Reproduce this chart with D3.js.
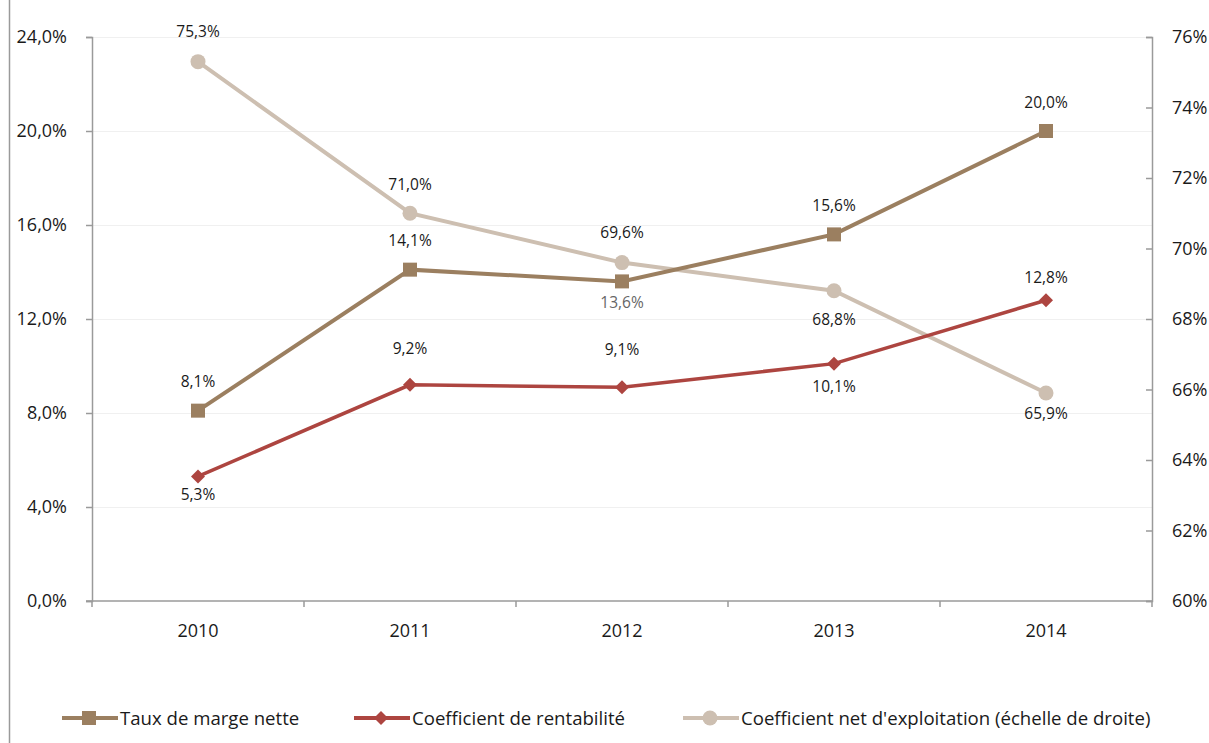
<!DOCTYPE html>
<html>
<head>
<meta charset="utf-8">
<script src="https://cdn.jsdelivr.net/npm/d3@7"></script>
<style>
  body { margin: 0; background: #fff; }
  svg text { font-family: "Open Sans", "Noto Sans", sans-serif; fill: #1a1a1a; }
</style>
</head>
<body>
<svg id="chart" width="1209" height="743"></svg>
<script>
// Years on the x axis
const years = ["2010", "2011", "2012", "2013", "2014"];
// Left-axis series (percent)
const tauxMarge = [8.1, 14.1, 13.6, 15.6, 20.0];
const coefRentabilite = [5.3, 9.2, 9.1, 10.1, 12.8];
// Right-axis series (percent)
const coefExploitation = [75.3, 71.0, 69.6, 68.8, 65.9];
// Tick values
const leftTicks = [0, 4, 8, 12, 16, 20, 24];
const rightTicks = [60, 62, 64, 66, 68, 70, 72, 74, 76];

// Layout: vertical offset (px) of each data label's centre from its point
const tauxLabelDy = [-29, -29, 21, -29, -29];
const rentLabelDy = [18, -36, -38, 23, -23];
const exploitLabelDy = [-30, -29, -30, 29, 20];

const svg = d3.select("#chart");
const plotLeft = 92, plotRight = 1152, plotTop = 37, plotBottom = 601;

const fr = v => v.toFixed(1).replace(".", ",") + "%";

const x = d3.scaleBand().domain(years).range([plotLeft, plotRight]);
const yL = d3.scaleLinear().domain([0, 24]).range([plotBottom, plotTop]);
const yR = d3.scaleLinear().domain([60, 76]).range([plotBottom, plotTop]);
const cx = d => x(d) + x.bandwidth() / 2;

// outer frame edge
svg.append("line").attr("x1", 9.5).attr("x2", 9.5).attr("y1", 0).attr("y2", 743)
  .attr("stroke", "#9a9a9a").attr("stroke-width", 1.5);

// gridlines
svg.append("g").selectAll("line").data(leftTicks.slice(1)).join("line")
  .attr("x1", plotLeft).attr("x2", plotRight)
  .attr("y1", d => Math.round(yL(d)) + 0.5).attr("y2", d => Math.round(yL(d)) + 0.5)
  .attr("stroke", "#f0f0f0").attr("stroke-width", 1);

const axisColor = "#9a9a9a";
function styleAxis(g) {
  g.selectAll("path, line").attr("stroke", axisColor).attr("stroke-width", 1.5);
  g.selectAll("text").attr("font-size", 18).attr("fill", "#1a1a1a");
}

// left axis (ticks outward)
svg.append("g").attr("transform", `translate(${plotLeft},0)`)
  .call(d3.axisLeft(yL).tickValues(leftTicks).tickSize(6).tickSizeOuter(6)
    .tickFormat(d => fr(d)).tickPadding(19))
  .call(styleAxis);

// right axis (ticks pointing into the plot)
svg.append("g").attr("transform", `translate(${plotRight},0)`)
  .call(d3.axisRight(yR).tickValues(rightTicks).tickSize(-6).tickSizeOuter(-6)
    .tickFormat(d => d + "%").tickPadding(20))
  .call(styleAxis);

// bottom axis: ticks at band boundaries
const xg = svg.append("g").attr("transform", `translate(0,${plotBottom})`);
xg.append("line").attr("x1", plotLeft - 6).attr("x2", plotRight).attr("y1", 0).attr("y2", 0)
  .attr("stroke", axisColor).attr("stroke-width", 1.5);
const bounds = years.map(d => x(d)).concat([plotRight]);
xg.selectAll("line.tk").data(bounds).join("line").attr("class", "tk")
  .attr("x1", d => d).attr("x2", d => d).attr("y1", 0).attr("y2", 6)
  .attr("stroke", axisColor).attr("stroke-width", 1.5);
xg.selectAll("text").data(years).join("text")
  .attr("x", d => cx(d)).attr("y", 36).attr("text-anchor", "middle")
  .attr("font-size", 18).text(d => d);

// series definitions
const series = [
  { name: "Coefficient net d'exploitation (échelle de droite)", vals: coefExploitation, y: yR,
    color: "#cdbfb1", marker: "circle", width: 4, dy: exploitLabelDy },
  { name: "Taux de marge nette", vals: tauxMarge, y: yL,
    color: "#9b7f60", marker: "square", width: 4, dy: tauxLabelDy },
  { name: "Coefficient de rentabilité", vals: coefRentabilite, y: yL,
    color: "#ad4540", marker: "diamond", width: 3.5, dy: rentLabelDy }
];

function drawMarker(g, type, color, px, py) {
  if (type === "square") {
    g.append("rect").attr("x", px - 7).attr("y", py - 7).attr("width", 14).attr("height", 14)
      .attr("fill", color);
  } else if (type === "diamond") {
    g.append("path").attr("d", `M${px},${py - 7}L${px + 7},${py}L${px},${py + 7}L${px - 7},${py}Z`)
      .attr("fill", color);
  } else {
    g.append("circle").attr("cx", px).attr("cy", py).attr("r", 7.5).attr("fill", color);
  }
}

const plot = svg.append("g");
series.forEach(s => {
  const line = d3.line().x((d, i) => cx(years[i])).y(d => s.y(d));
  plot.append("path").datum(s.vals).attr("d", line)
    .attr("fill", "none").attr("stroke", s.color).attr("stroke-width", s.width);
});
series.forEach(s => {
  s.vals.forEach((v, i) => drawMarker(plot, s.marker, s.color, cx(years[i]), s.y(v)));
});

// data labels
series.forEach(s => {
  s.vals.forEach((v, i) => {
    const py = s.y(v);
    const grey = (s.name === "Taux de marge nette" && s.dy[i] > 0);
    plot.append("text")
      .attr("x", cx(years[i]))
      .attr("y", py + s.dy[i])
      .attr("dy", "0.36em")
      .attr("text-anchor", "middle").attr("font-size", 15.5)
      .style("fill", grey ? "#666" : "#1a1a1a")
      .text(fr(v));
  });
});

// legend
const legend = [
  { s: series[1], x0: 62 },
  { s: series[2], x0: 354 },
  { s: series[0], x0: 683 }
];
const ly = 718;
legend.forEach(l => {
  const g = svg.append("g");
  g.append("line").attr("x1", l.x0).attr("x2", l.x0 + 56).attr("y1", ly).attr("y2", ly)
    .attr("stroke", l.s.color).attr("stroke-width", 4);
  drawMarker(g, l.s.marker, l.s.color, l.x0 + 27, ly);
  g.append("text").attr("x", l.x0 + 58).attr("y", ly + 7).attr("font-size", 18.6).text(l.s.name);
});
</script>
</body>
</html>
